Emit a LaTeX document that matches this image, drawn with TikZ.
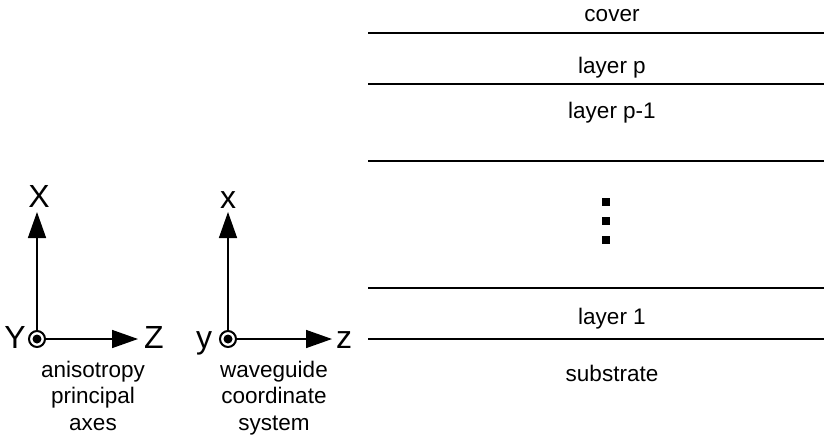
\documentclass[tikz,border=0pt]{standalone}
\usepackage{fontspec}
\setmainfont{Liberation Sans}
\usetikzlibrary{arrows.meta}
\begin{document}
\begin{tikzpicture}[x=1pt,y=-1pt,
  layerline/.style={line width=2pt},
  axisarrow/.style={line width=1.5pt,-{Triangle[length=26pt,width=18pt]}},
  axlabel/.style={font=\fontsize{32}{32}\selectfont, anchor=base, inner sep=0pt},
  layertext/.style={font=\fontsize{22.5}{27}\selectfont, anchor=base, inner sep=0pt},
  captext/.style={font=\fontsize{22.5}{26.5}\selectfont, anchor=base, inner sep=0pt},
  origin/.style={circle, draw, line width=2pt, minimum size=16pt, inner sep=0pt},
  dotmark/.style={rectangle, fill=black, minimum size=8pt, inner sep=0pt}
]
\useasboundingbox (0,0) rectangle (824,439);

% ---- layer stack: interfaces ----
\foreach \name/\yy in {top/33, p/84, pm/161, one/288, sub/339}{
  \coordinate (\name L) at (368,\yy);
  \coordinate (\name R) at (824,\yy);
  \draw[layerline] (\name L) -- (\name R);
}

% ---- layer names ----
\node[layertext] (cover) at (612,21) {cover};
\node[layertext] (layp) at (612,73) {layer p};
\node[layertext] (laypm) at (612,118) {layer p-1};
\node[layertext] (lay1) at (612,324) {layer 1};
\node[layertext] (subst) at (612,381) {substrate};

% ---- vertical ellipsis ----
\node[dotmark] (d1) at (606,202) {};
\node[dotmark] (d2) at (606,221) {};
\node[dotmark] (d3) at (606,240) {};

% ---- anisotropy principal axes ----
\node[origin] (O1) at (37,339) {};
\fill (O1.center) circle[radius=4.5pt];
\coordinate (X1) at (37,212);
\coordinate (Z1) at (138,339);
\draw[axisarrow] (O1.north) -- (X1);
\draw[axisarrow] (O1.east) -- (Z1);
\node[axlabel] (labX) at (39,207) {X};
\node[axlabel] (labY) at (15,348) {Y};
\node[axlabel] (labZ) at (154,348) {Z};
\node[captext] (cap1) at (93,377)
  {\begin{tabular}[t]{@{}c@{}}anisotropy\\principal\\axes\end{tabular}};

% ---- waveguide coordinate system ----
\node[origin] (O2) at (228,339) {};
\fill (O2.center) circle[radius=4.5pt];
\coordinate (X2) at (228,212);
\coordinate (Z2) at (332,339);
\draw[axisarrow] (O2.north) -- (X2);
\draw[axisarrow] (O2.east) -- (Z2);
\node[axlabel] (labx) at (228,208) {x};
\node[axlabel] (laby) at (204,348) {y};
\node[axlabel] (labz) at (344,348) {z};
\node[captext] (cap2) at (274,377)
  {\begin{tabular}[t]{@{}c@{}}waveguide\\coordinate\\system\end{tabular}};
\end{tikzpicture}
\end{document}
